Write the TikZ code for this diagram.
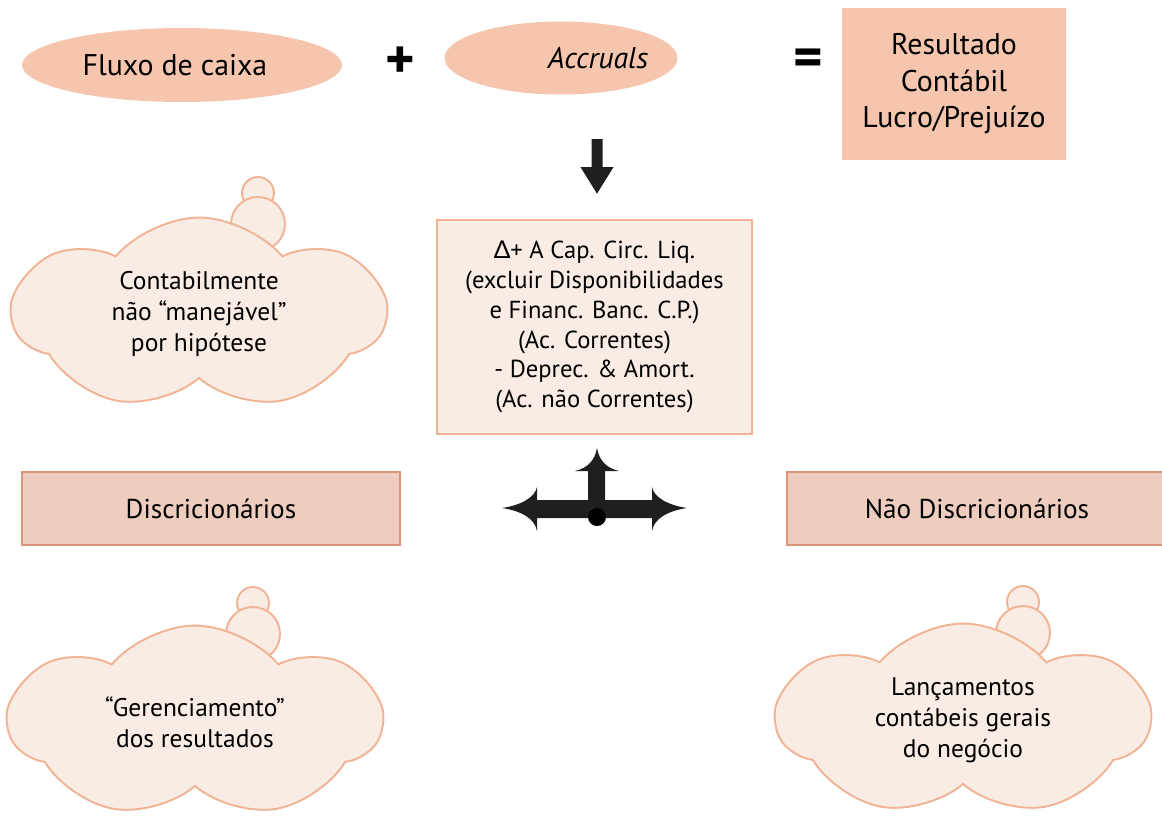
\documentclass[tikz,border=0pt]{standalone}
\usepackage{fontspec}
\setmainfont{PT Sans}
\newfontfamily\gregofont{Lato}
\usetikzlibrary{positioning,shapes.geometric,shapes.symbols,arrows.meta}

\definecolor{pessego}{HTML}{F5C6AD}
\definecolor{creme}{HTML}{F9ECE5}
\definecolor{bordacreme}{HTML}{F0B394}
\definecolor{rosado}{HTML}{EECDBF}
\definecolor{bordarosado}{HTML}{D9957A}
\definecolor{escuro}{HTML}{1F1F1F}

\tikzset{
	oval/.style={ellipse, fill=pessego, inner sep=0pt, font=\fontsize{17}{20}\selectfont},
	sinal/.style={font=\fontsize{32}{32}\selectfont\bfseries},
	resultbox/.style={rectangle, fill=pessego, align=center, minimum width=4.48cm, minimum height=3.04cm, font=\fontsize{17}{20.8}\selectfont},
	accbox/.style={rectangle, fill=creme, draw=bordacreme, line width=1.1pt, align=center, minimum width=6.3cm, minimum height=4.28cm, font=\fontsize{14}{17}\selectfont},
	tipobox/.style={rectangle, fill=rosado, draw=bordarosado, line width=1.1pt, minimum width=7.56cm, minimum height=1.46cm, font=\fontsize{15.5}{18}\selectfont},
	nuvem/.style={cloud, cloud puffs=7, cloud puff arc=100, cloud ignores aspect, fill=creme, draw=bordacreme, line width=1.1pt, minimum width=7.44cm, minimum height=3.86cm, align=center, font=\fontsize{14.5}{17.6}\selectfont},
	bolha/.style={circle, fill=creme, draw=bordacreme, line width=1.1pt, inner sep=0pt},
	seta/.style={escuro, line width=0.22cm, -{Triangle[length=0.54cm, width=0.62cm]}},
}

\begin{document}
\begin{tikzpicture}[x=0.02cm, y=-0.02cm]
	\useasboundingbox (0,0) rectangle (1162,819);

	\node[oval, minimum width=6.4cm, minimum height=1.48cm] (fluxo) at (182,65) {Fluxo de caixa\hspace*{0.28cm}};
	\node[sinal] (mais) at (400,63) {+};
	\node[oval, minimum width=4.66cm, minimum height=1.46cm,
		label={[font=\fontsize{17}{20}\selectfont\itshape, xshift=0.74cm]center:Accruals}] (accruals) at (561,58) {};
	\node[sinal] (igual) at (808,63) {=};
	\node[resultbox] (resultado) at (954,84) {Resultado\\Contábil\\Lucro/Prejuízo};

	\node[accbox] (caixa) at (594.5,327) {{\gregofont Δ}+ A Cap. Circ. Liq.\\(excluir Disponibilidades\\e Financ. Banc. C.P.)\\(Ac. Correntes)\\- Deprec. \& Amort.\\(Ac. não Correntes)};
	\coordinate (setaini) at (597,139);
	\draw[seta] (setaini) -- ([xshift=0.05cm, yshift=0.5cm]caixa.north);

	\node[tipobox] (disc) at (211,508.5) {Discricionários};
	\node[tipobox, minimum width=7.6cm] (naodisc) at (977,508.5) {Não Discricionários};

	\fill[escuro] (502,508) .. controls (522,505) and (535,497) .. (537,487) -- (537,500)
		-- (588,500) -- (588,471) -- (575,471)
		.. controls (588,468) and (595,460) .. (597,448)
		.. controls (599,460) and (606,468) .. (619,471) -- (605,471) -- (605,500)
		-- (652,500) -- (652,487) .. controls (654,497) and (667,505) .. (687,508)
		.. controls (667,511) and (654,519) .. (652,531) -- (652,518)
		-- (537,518) -- (537,531) .. controls (535,519) and (522,511) .. (502,508) -- cycle;
	\node[circle, fill=black, inner sep=0pt, minimum size=0.36cm] (ponto) at (597,517) {};

	\node[bolha, minimum size=0.64cm] (b1p) at (258,193) {};
	\node[bolha, minimum size=1.08cm] (b1g) at (258,224) {};
	\node[nuvem] (nuvem1) at (199,314) {Contabilmente\\não “manejável”\\por hipótese};

	\node[bolha, minimum size=0.64cm] (b2p) at (253,603) {};
	\node[bolha, minimum size=1.08cm] (b2g) at (253,634) {};
	\node[nuvem] (nuvem2) at (195,722) {“Gerenciamento”\\dos resultados};

	\node[bolha, minimum size=0.64cm] (b3p) at (1023,602) {};
	\node[bolha, minimum size=1.08cm] (b3g) at (1023,633) {};
	\node[nuvem] (nuvem3) at (963,720) {Lançamentos\\contábeis gerais\\do negócio};
\end{tikzpicture}
\end{document}
